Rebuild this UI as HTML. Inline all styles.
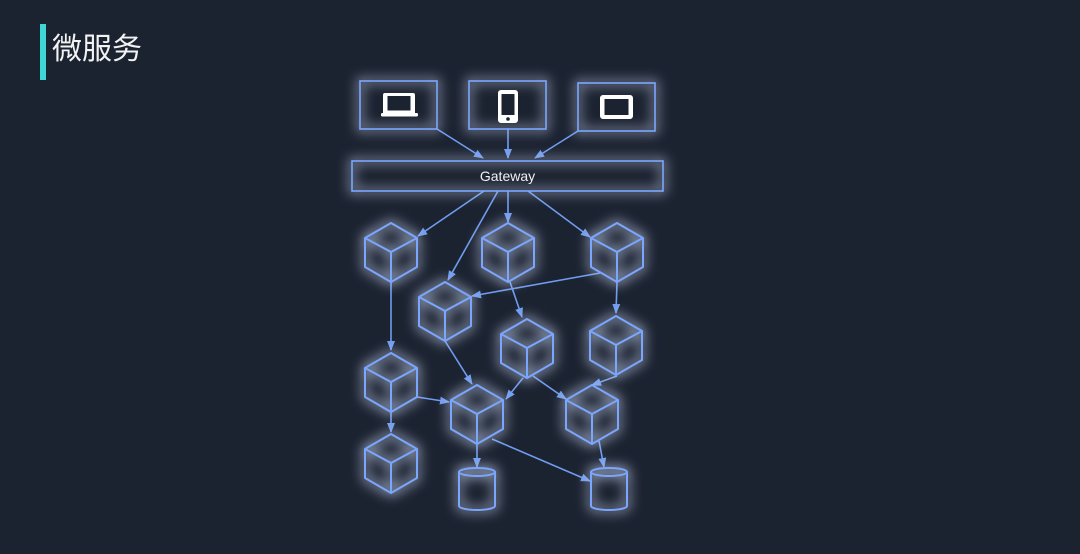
<!DOCTYPE html>
<html><head><meta charset="utf-8"><style>
html,body{margin:0;padding:0;background:#1b2230;}
body{width:1080px;height:554px;overflow:hidden;position:relative;}
.bar{position:absolute;left:40px;top:24px;width:6px;height:56px;background:#3fd6d6;}
.title{position:absolute;left:52px;top:30px;font:30px "Liberation Sans","Noto Sans CJK SC",sans-serif;color:#f2f2f2;line-height:40px;}
svg{position:absolute;left:0;top:0;}
</style></head><body>
<div class="bar"></div>
<div class="title">微服务</div>
<svg width="1080" height="554" viewBox="0 0 1080 554">
<defs>
<filter id="g" x="-40%" y="-40%" width="180%" height="180%">
<feMorphology in="SourceAlpha" operator="dilate" radius="2" result="d"/>
<feGaussianBlur in="d" stdDeviation="6" result="b"/>
<feFlood flood-color="#c0cdea" flood-opacity="0.7"/>
<feComposite in2="b" operator="in" result="glow"/>
<feMerge><feMergeNode in="glow"/><feMergeNode in="SourceGraphic"/></feMerge>
</filter>
<marker id="a" markerWidth="10" markerHeight="10" refX="9" refY="5" orient="auto" markerUnits="userSpaceOnUse">
<path d="M0,1 L10,5 L0,9 Z" fill="#6f9cf0"/></marker>
<g id="cube" fill="none" stroke="#7aa6ff" stroke-width="2" stroke-linejoin="round">
<path d="M0,-29 L26,-14 L26,15 L0,30 L-26,15 L-26,-14 Z M-26,-14 L0,0 L26,-14 M0,0 L0,30"/>
</g>
<g id="cyl" fill="none" stroke="#7aa6ff" stroke-width="2">
<path d="M-18,-17 L-18,17 A18,4 0 0 0 18,17 L18,-17"/>
<ellipse cx="0" cy="-17" rx="18" ry="4"/>
</g>
</defs>
<g stroke="#6f9cf0" stroke-width="1.6" fill="none" marker-end="url(#a)">
<line x1="437" y1="129" x2="483" y2="158"/>
<line x1="508" y1="129" x2="508" y2="158"/>
<line x1="578" y1="131" x2="535" y2="158"/>
<line x1="484" y1="191" x2="418" y2="236"/>
<line x1="498" y1="191" x2="448" y2="280"/>
<line x1="508" y1="191" x2="508" y2="222"/>
<line x1="528" y1="191" x2="590" y2="237"/>
<line x1="600" y1="273" x2="472" y2="296"/>
<line x1="510" y1="282" x2="522" y2="317"/>
<line x1="617" y1="282" x2="616" y2="313"/>
<line x1="391" y1="282" x2="391" y2="350"/>
<line x1="445" y1="341" x2="472" y2="384"/>
<line x1="523" y1="378" x2="506" y2="399"/>
<line x1="533" y1="376" x2="566" y2="399"/>
<line x1="617" y1="376" x2="592" y2="385"/>
<line x1="417" y1="397" x2="449" y2="402"/>
<line x1="391" y1="412" x2="391" y2="432"/>
<line x1="477" y1="444" x2="477" y2="467"/>
<line x1="492" y1="439" x2="590" y2="481"/>
<line x1="599" y1="441" x2="604" y2="467"/>
</g>
<g filter="url(#g)">
<g fill="none" stroke="#7aa6ff" stroke-width="1.6">
<rect x="360" y="81" width="77" height="48"/>
<rect x="469" y="81" width="77" height="48"/>
<rect x="578" y="83" width="77" height="48"/>
<rect x="352" y="161" width="311" height="30"/>
</g>
<use href="#cube" x="391" y="252"/>
<use href="#cube" x="508" y="252"/>
<use href="#cube" x="617" y="252"/>
<use href="#cube" x="445" y="311"/>
<use href="#cube" x="527" y="348"/>
<use href="#cube" x="616" y="345"/>
<use href="#cube" x="391" y="382"/>
<use href="#cube" x="477" y="414"/>
<use href="#cube" x="592" y="414"/>
<use href="#cube" x="391" y="463"/>
<use href="#cyl" x="477" y="489"/>
<use href="#cyl" x="609" y="489"/>
</g>
<g fill="#ffffff">
<path fill-rule="evenodd" d="M385,93 h28 a2,2 0 0 1 2,2 v18 h-32 v-18 a2,2 0 0 1 2,-2 Z M387.5,96 v14.5 h23 v-14.5 Z"/>
<rect x="381" y="113" width="37" height="3.5" rx="1.2"/>
<path fill-rule="evenodd" d="M501,90 h14 a3,3 0 0 1 3,3 v27 a3,3 0 0 1 -3,3 h-14 a3,3 0 0 1 -3,-3 v-27 a3,3 0 0 1 3,-3 Z M501.5,94 v21 h13 v-21 Z"/>
<circle cx="508" cy="119" r="1.8" fill="#1b2230"/>
<path fill-rule="evenodd" d="M603,95 h27 a3,3 0 0 1 3,3 v18 a3,3 0 0 1 -3,3 h-27 a3,3 0 0 1 -3,-3 v-18 a3,3 0 0 1 3,-3 Z M604.5,99 v16 h24 v-16 Z"/>
</g>
<text x="507.5" y="181" text-anchor="middle" font-family="Liberation Sans, sans-serif" font-size="14" fill="#f0f0f0">Gateway</text>
</svg>
</body></html>
